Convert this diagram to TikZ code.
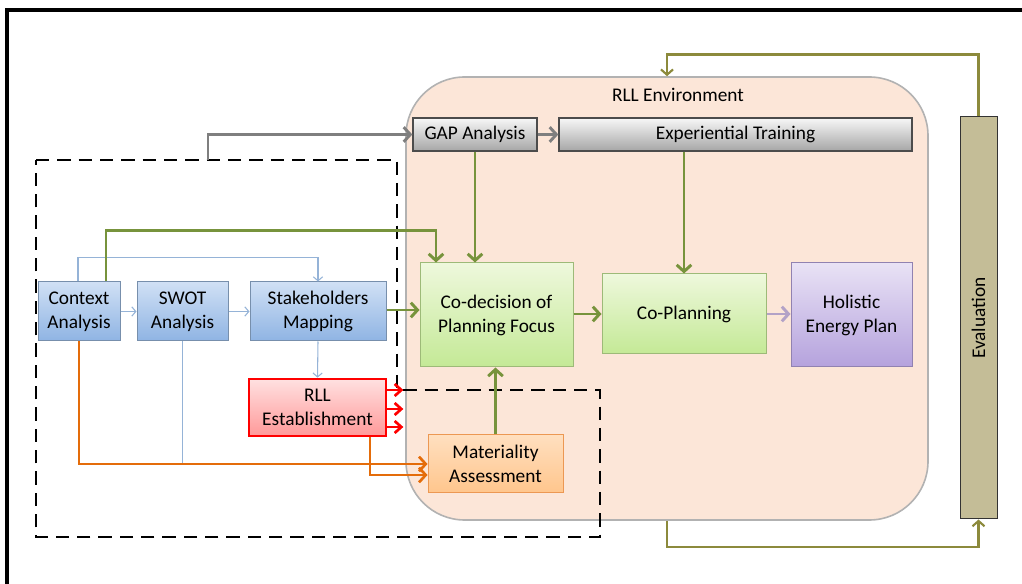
\documentclass[tikz,border=0pt]{standalone}
\usepackage{fontspec}
\usepackage{graphicx}
\setmainfont{Carlito}
\usetikzlibrary{arrows.meta,calc}

\definecolor{arrgreen}{HTML}{77933C}
\definecolor{arrorange}{HTML}{E46C0A}
\definecolor{arrblue}{HTML}{95B3D7}
\definecolor{arrgray}{HTML}{7F7F7F}
\definecolor{arrolive}{HTML}{8C8A3C}
\definecolor{arrpurple}{HTML}{B3A2C7}
\definecolor{envfill}{HTML}{FCE6D8}
\definecolor{bluetop}{HTML}{D0E0F5}
\definecolor{bluebot}{HTML}{8FB4E3}
\definecolor{greentop}{HTML}{EEF8DC}
\definecolor{greenbot}{HTML}{C4E996}
\definecolor{purptop}{HTML}{E9E2F5}
\definecolor{purpbot}{HTML}{B5A2DD}
\definecolor{evalfill}{HTML}{C4BD97}

\tikzset{every picture/.style={line width=0.75pt}}
\tikzset{
    box/.style={draw, align=center, inner sep=2pt, font=\fontsize{14.5}{18}\selectfont},
    bluebox/.style={box, draw=arrblue!80!black, top color=bluetop, bottom color=bluebot},
    greenbox/.style={box, draw=greenbot!80!black, top color=greentop, bottom color=greenbot},
    purplebox/.style={box, draw=purpbot!80!black, top color=purptop, bottom color=purpbot},
    graybox/.style={box, draw=black!70, line width=1pt, top color=black!3, bottom color=black!35},
    redbox/.style={box, draw=red, line width=2pt, top color=red!12!white, bottom color=red!40!white},
    orangebox/.style={box, draw=arrorange!70, top color=orange!25!white, bottom color=orange!45!white},
    evalbox/.style={box, draw=black!80, fill=evalfill},
    envbox/.style={draw=black!30, line width=1.2pt, fill=envfill, rounded corners=44pt},
    grn/.style={draw=arrgreen, line width=2.2pt, -{Straight Barb[length=5pt,width=11pt]}},
    blu/.style={draw=arrblue, line width=0.8pt, -{Straight Barb[length=3pt,width=7pt]}},
    gry/.style={draw=arrgray, line width=2.2pt, -{Straight Barb[length=5pt,width=11pt]}},
    org/.style={draw=arrorange, line width=2pt, -{Straight Barb[length=5pt,width=11pt]}},
    red/.style={draw=red, line width=2pt, -{Straight Barb[length=5pt,width=9pt]}},
    olv/.style={draw=arrolive, line width=1.6pt, -{Straight Barb[length=4pt,width=9pt]}},
    pur/.style={draw=arrpurple, line width=2.2pt, -{Straight Barb[length=5pt,width=11pt]}}
}

\begin{document}
\begin{tikzpicture}[x=0.75pt, y=-0.75pt]
    \useasboundingbox (0,0) rectangle (1022,584);
    \draw[line width=2.4pt] (7,584) -- (7,10) -- (1022,10);

    % environment
    \node[envbox, minimum width=391.5pt, minimum height=332.25pt] (env) at (667,298.5) {};
    \node[font=\fontsize{14.5}{18}\selectfont] (envlbl) at (678,95) {RLL Environment};

    % dashed frame
    \draw[dash pattern=on 10pt off 6pt, line width=1.6pt]
        (36,160) -- (397,160) -- (397,390) -- (600,390) -- (600,537) -- (36,537) -- cycle;
    \coordinate (dtop) at (208,160);

    % boxes
    \node[bluebox, minimum width=61.5pt, minimum height=44.25pt] (ctx) at (79,311.5) {Context\\Analysis};
    \node[bluebox, minimum width=68.25pt, minimum height=44.25pt] (swot) at (182.5,311.5) {SWOT\\Analysis};
    \node[bluebox, minimum width=102pt, minimum height=44.25pt] (stake) at (318,311.5) {Stakeholders\\Mapping};
    \node[redbox, minimum width=102.75pt, minimum height=42.75pt] (rll) at (317.5,407.5) {RLL\\Establishment};
    \node[orangebox, minimum width=101.25pt, minimum height=43.5pt] (mat) at (495.5,464) {Materiality\\Assessment};
    \node[greenbox, minimum width=114.75pt, minimum height=78pt] (codec) at (496.5,315) {Co-decision of\\Planning Focus};
    \node[greenbox, minimum width=123pt, minimum height=60pt] (coplan) at (684,314) {Co-Planning};
    \node[purplebox, minimum width=90.75pt, minimum height=78pt] (hep) at (851.5,315) {Holistic\\Energy Plan};
    \node[graybox, minimum width=93pt, minimum height=24.75pt] (gap) at (475,134.5) {GAP Analysis};
    \node[graybox, minimum width=264.75pt, minimum height=24.75pt] (exp) at (735.5,134.5) {Experiential Training};
    \node[evalbox, minimum width=27.75pt, minimum height=301.5pt] (eval) at (978.5,318) {\rotatebox{90}{Evaluation}};

    % connectors
    \draw[blu] ($(ctx.north)+(-1,0)$) -- ++(0,-24) -| (stake.north);
    \draw[grn] ($(ctx.north)+(27,0)$) -- ++(0,-51) -| ($(codec.north)+(-60.5,0)$);
    \draw[blu] (ctx) -- (swot);
    \draw[blu] (swot) -- (stake);
    \draw[blu] (stake.south) -- (rll.north);
    \draw[grn] ($(stake.east)+(0,-1.5)$) -- ($(stake.east -| codec.west)+(0,-1.5)$);
    \draw[grn] (codec.east |- coplan.west) -- (coplan.west);
    \draw[pur] (coplan.east) -- (coplan.east -| hep.west);
    \draw[gry] (dtop) |- (gap.west);
    \draw[gry] (gap.east) -- (exp.west);
    \draw[grn] (gap.south) -- (gap.south |- codec.north);
    \draw[grn] (exp.south -| coplan.north) -- (coplan.north);
    \draw[grn] (mat.north) -- (mat.north |- codec.south);
    \draw[arrblue, line width=0.8pt] (swot.south) -- (swot.south |- mat.west);
    \draw[org] (ctx.south) |- (mat.west);
    \draw[org] ($(rll.south)+(52.5,0)$) |- ($(mat.west)+(0,11)$);
    \foreach \dy in {-17.5,1.5,19.5}
        \draw[red] ($(rll.east)+(0,\dy)$) -- ++(16,0);
    \draw[olv] (eval.north) -- ++(0,-62) -| (env.north);
    \draw[olv] (env.south) -- ++(0,26) -| (eval.south);
\end{tikzpicture}
\end{document}
